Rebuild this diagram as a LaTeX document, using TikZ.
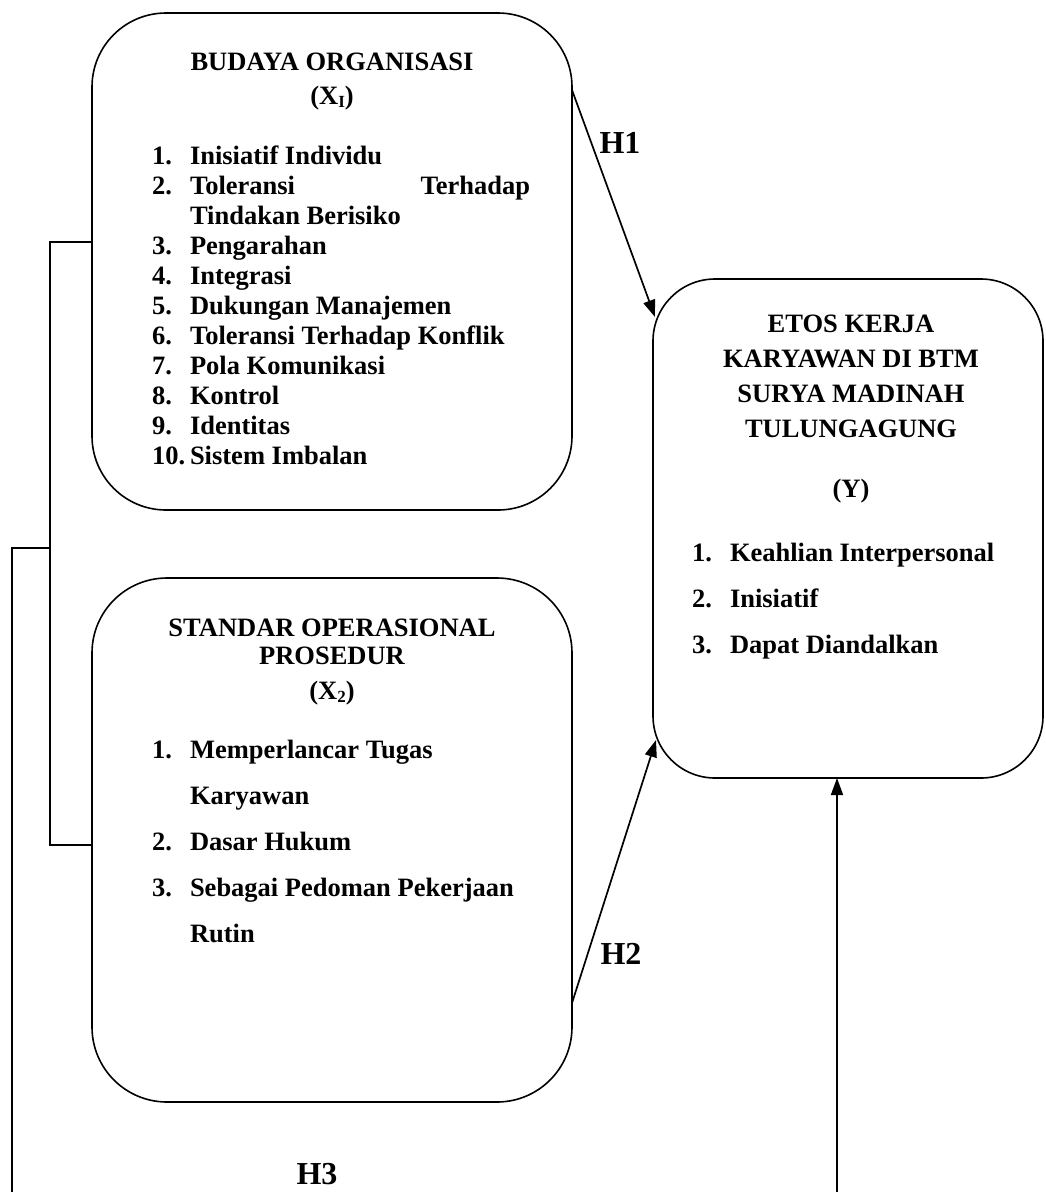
\documentclass[tikz,border=0pt]{standalone}
\usepackage{fontspec}
\setmainfont{Liberation Serif}
\usetikzlibrary{arrows.meta,calc}
\newcommand\mysub[1]{\raisebox{-0.3ex}{\fontsize{17}{17}\selectfont #1}}
\begin{document}
\begin{tikzpicture}[x=1pt,y=-1pt,
  box/.style={draw,line width=1.6pt,inner sep=0pt,outer sep=0pt},
  txt/.style={inner sep=0pt,outer sep=0pt,anchor=base west,font=\fontsize{26.5}{30}\selectfont\bfseries},
  ttl/.style={inner sep=0pt,outer sep=0pt,anchor=base,font=\fontsize{26.5}{30}\selectfont\bfseries},
  hlab/.style={inner sep=0pt,outer sep=0pt,anchor=base,font=\fontsize{32}{36}\selectfont\bfseries},
  conn/.style={line width=1.5pt},
  arr/.style={line width=1.7pt,-{Triangle[length=17pt,width=12pt]}}]
\useasboundingbox (0,0) rectangle (1045,1192);
% boxes
\node[box,rounded corners=74pt,minimum width=480pt,minimum height=497pt] (b1) at (332,261.5) {};
\node[box,rounded corners=75pt,minimum width=480pt,minimum height=524pt] (b2) at (332,840) {};
\node[box,rounded corners=62pt,minimum width=390pt,minimum height=499pt] (bY) at (848,528.5) {};
% box 1 text
\node[ttl] (t1a) at (332,70) {BUDAYA ORGANISASI};
\node[ttl] (t1b) at (332,104) {(X\mysub{I})};
\node[txt] (n11) at (152,164) {1.};  \node[txt] (i11) at (190,164) {Inisiatif Individu};
\node[txt] (n12) at (152,194) {2.};  \node[txt] (i12) at (190,194) {\makebox[340pt][s]{Toleransi\hfill Terhadap}};
\node[txt] (i12b) at (190,224) {Tindakan Berisiko};
\node[txt] (n13) at (152,254) {3.};  \node[txt] (i13) at (190,254) {Pengarahan};
\node[txt] (n14) at (152,284) {4.};  \node[txt] (i14) at (190,284) {Integrasi};
\node[txt] (n15) at (152,314) {5.};  \node[txt] (i15) at (190,314) {Dukungan Manajemen};
\node[txt] (n16) at (152,344) {6.};  \node[txt] (i16) at (190,344) {Toleransi Terhadap Konflik};
\node[txt] (n17) at (152,374) {7.};  \node[txt] (i17) at (190,374) {Pola Komunikasi};
\node[txt] (n18) at (152,404) {8.};  \node[txt] (i18) at (190,404) {Kontrol};
\node[txt] (n19) at (152,434) {9.};  \node[txt] (i19) at (190,434) {Identitas};
\node[txt] (n110) at (152,464) {10.}; \node[txt] (i110) at (190,464) {Sistem Imbalan};
% box 2 text
\node[ttl] (t2a) at (332,636) {STANDAR OPERASIONAL};
\node[ttl] (t2b) at (332,664) {PROSEDUR};
\node[ttl] (t2c) at (332,699) {(X\mysub{2})};
\node[txt] (n21) at (152,758) {1.}; \node[txt] (i21) at (190,758) {Memperlancar Tugas};
\node[txt] (i21b) at (190,804) {Karyawan};
\node[txt] (n22) at (152,850) {2.}; \node[txt] (i22) at (190,850) {Dasar Hukum};
\node[txt] (n23) at (152,896) {3.}; \node[txt] (i23) at (190,896) {Sebagai Pedoman Pekerjaan};
\node[txt] (i23b) at (190,942) {Rutin};
% box Y text
\node[ttl] (tYa) at (851,332) {ETOS KERJA};
\node[ttl] (tYb) at (851,367) {KARYAWAN DI BTM};
\node[ttl] (tYc) at (851,402) {SURYA MADINAH};
\node[ttl] (tYd) at (851,437) {TULUNGAGUNG};
\node[ttl] (tYe) at (851,497) {(Y)};
\node[txt] (nY1) at (692,561) {1.}; \node[txt] (iY1) at (730,561) {Keahlian Interpersonal};
\node[txt] (nY2) at (692,607) {2.}; \node[txt] (iY2) at (730,607) {Inisiatif};
\node[txt] (nY3) at (692,653) {3.}; \node[txt] (iY3) at (730,653) {Dapat Diandalkan};
% labels
\node[hlab] (h1) at (620,153) {H1};
\node[hlab] (h2) at (621,964) {H2};
\node[hlab] (h3) at (317,1184) {H3};
% connectors
\coordinate (brk) at (50,548);
\coordinate (h3l) at (12,1192);
\coordinate (h3r) at (837,1192);
\draw[arr] ([yshift=-77pt]b1.north east) -- ([xshift=2pt,yshift=-38pt]bY.north west);
\draw[arr] ([yshift=99pt]b2.south east) -- ([xshift=3pt,yshift=38pt]bY.south west);
\draw[arr] (h3r) -- (h3r |- bY.south);
\draw[conn] ([yshift=19.5pt]b1.west) -| (brk) |- ([yshift=-5pt]b2.west);
\draw[conn] (brk) -| (h3l);
\end{tikzpicture}
\end{document}
